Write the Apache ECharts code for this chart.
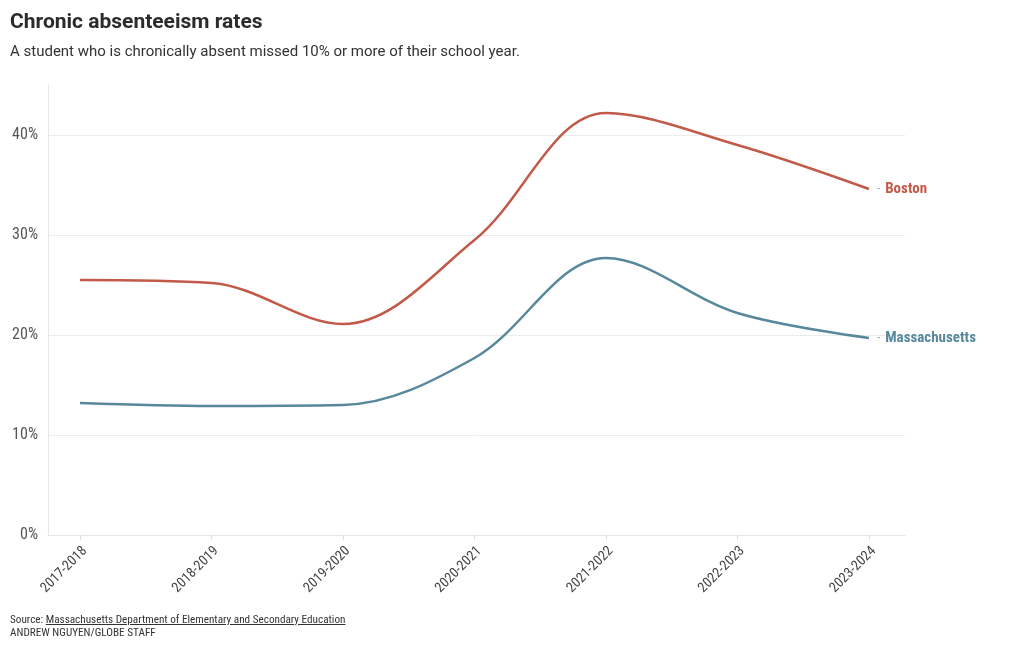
<!DOCTYPE html>
<html>
<head>
<meta charset="utf-8">
<script src="https://cdn.jsdelivr.net/npm/echarts@6/dist/echarts.min.js"></script>
<style>
html,body{margin:0;padding:0;background:#fff;}
#chart{width:1020px;height:650px;}
#foot{position:absolute;left:10px;top:613px;font-family:"Roboto Condensed",Roboto,sans-serif;font-size:11.2px;line-height:13px;color:#333;}
#foot u{text-decoration:underline;}
</style>
</head>
<body>
<div id="chart"></div>
<div id="foot">Source: <u>Massachusetts Department of Elementary and Secondary Education</u><br>ANDREW NGUYEN/GLOBE STAFF</div>
<script>
var categories = ['2017-2018','2018-2019','2019-2020','2020-2021','2021-2022','2022-2023','2023-2024'];
var bostonValues = [25.5, 25.2, 21.1, 29.5, 42.2, 39.0, 34.6];
var massValues = [13.2, 12.9, 13.0, 17.7, 27.7, 22.2, 19.7];
var yTicks = [0, 10, 20, 30, 40];

var FONT = '"Roboto Condensed",Roboto,sans-serif';
var FONTW = 'Roboto,sans-serif';
var idx = categories.map(function(c, i){ return i; });
function pairs(vals){ return vals.map(function(v, i){ return [i, v]; }); }

var chart = echarts.init(document.getElementById('chart'));
chart.setOption({
  animation: false,
  title: [{
    text: 'Chronic absenteeism rates',
    left: 10, top: 12, padding: 0,
    textStyle: {fontFamily: FONTW, fontSize: 21, fontWeight: 'bold', color: '#2b2b2b'}
  },{
    text: 'A student who is chronically absent missed 10% or more of their school year.',
    left: 10, top: 45, padding: 0,
    textStyle: {fontFamily: FONTW, fontSize: 15, fontWeight: 'normal', color: '#333'}
  }],
  grid: {left: 48, right: 115, top: 85, bottom: 115, containLabel: false},
  xAxis: {
    type: 'value',
    min: -0.2433, max: 6.274,
    axisLine: {show: true, lineStyle: {color: '#e6e6e6'}},
    axisTick: {show: true, length: 5, lineStyle: {color: '#e0e0e0'}, customValues: idx},
    splitLine: {show: false},
    axisLabel: {
      customValues: idx,
      rotate: 45,
      margin: 9,
      verticalAlign: 'top',
      fontFamily: FONT, fontSize: 14, color: '#444',
      formatter: function(v){ return categories[Math.round(v)] || ''; }
    }
  },
  yAxis: {
    type: 'value',
    min: 0, max: 45,
    axisLine: {show: true, onZero: false, lineStyle: {color: '#e6e6e6'}},
    axisTick: {show: false, customValues: yTicks},
    splitLine: {show: true, lineStyle: {color: '#ececec'}},
    axisLabel: {
      customValues: yTicks,
      fontFamily: FONT, fontSize: 16, color: '#555', margin: 10,
      formatter: function(v){ return v + '%'; }
    }
  },
  series: [{
    name: 'Boston', type: 'line', data: pairs(bostonValues),
    smooth: 0.35, symbol: 'none',
    lineStyle: {color: '#c15a49', width: 2.5},
    itemStyle: {color: '#c15a49'},
    endLabel: {
      show: true, distance: 8,
      formatter: '{d|-}{n|Boston}',
      rich: {
        d: {fontFamily: FONT, fontSize: 13, color: '#aaa'},
        n: {fontFamily: FONT, fontSize: 15, fontWeight: 'bold', color: '#c15a49', padding: [0, 0, 0, 5]}
      }
    }
  },{
    name: 'Massachusetts', type: 'line', data: pairs(massValues),
    smooth: 0.35, symbol: 'none',
    lineStyle: {color: '#57889b', width: 2.5},
    itemStyle: {color: '#57889b'},
    endLabel: {
      show: true, distance: 8,
      formatter: '{d|-}{n|Massachusetts}',
      rich: {
        d: {fontFamily: FONT, fontSize: 13, color: '#aaa'},
        n: {fontFamily: FONT, fontSize: 15, fontWeight: 'bold', color: '#57889b', padding: [0, 0, 0, 5]}
      }
    }
  }]
});
</script>
</body>
</html>
